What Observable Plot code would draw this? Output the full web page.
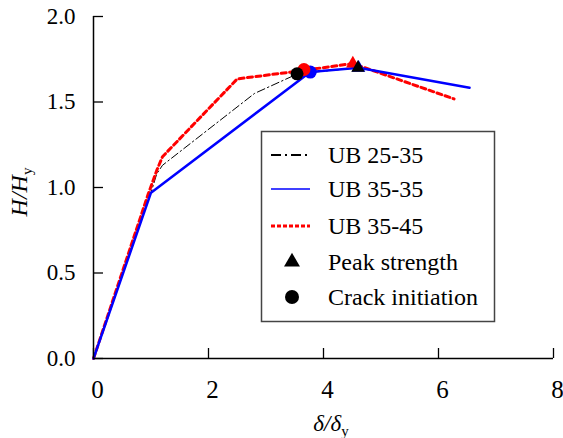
<!DOCTYPE html>
<html><head><meta charset="utf-8">
<script src="https://cdn.jsdelivr.net/npm/d3@7"></script>
<script src="https://cdn.jsdelivr.net/npm/@observablehq/plot@0.6"></script>
<style>
body{margin:0;background:#fff}
#chart{width:563px;height:438px}
</style>
</head><body><div id="chart"></div>
<script>
// Series data (δ/δy, H/Hy)
const ub2535X = [0, 1.0, 1.1, 1.2, 2.8, 3.55, 4.6];
const ub2535Y = [0, 0.97, 1.08, 1.13, 1.55, 1.665, 1.70];
const ub3535X = [0, 1.0, 3.77, 4.61, 6.54];
const ub3535Y = [0, 0.97, 1.675, 1.70, 1.583];
const ub3545X = [0, 0.95, 1.1, 1.2, 2.5, 3.66, 4.51, 6.27];
const ub3545Y = [0, 0.96, 1.1, 1.18, 1.635, 1.685, 1.725, 1.518];

// Crack initiation points (drawn blue, red, black)
const crackSeries = ["UB 35-35", "UB 35-45", "UB 25-35"];
const crackX = [3.77, 3.66, 3.54];
const crackY = [1.675, 1.69, 1.665];
// Peak strength points
const peakSeries = ["UB 35-35", "UB 35-45", "UB 25-35"];
const peakX = [4.61, 4.51, 4.6];
const peakY = [1.70, 1.725, 1.70];

const xTicks = [0, 2, 4, 6, 8];
const yTicks = [0, 0.5, 1.0, 1.5, 2.0];
const legendLabels = ["UB 25-35", "UB 35-35", "UB 35-45", "Peak strength", "Crack initiation"];

const colors = {"UB 25-35": "#000000", "UB 35-35": "#0000ff", "UB 35-45": "#ff0000"};
const toPts = (xs, ys) => xs.map((x, i) => ({x, y: ys[i]}));
const pts = (s, xs, ys) => s.map((name, i) => ({name, x: xs[i], y: ys[i]}));

const font = "Liberation Serif";

const chart = Plot.plot({
  width: 563, height: 438,
  marginLeft: 93, marginRight: 10, marginTop: 16, marginBottom: 80,
  x: {domain: [0, 8]},
  y: {domain: [0, 2]},
  style: {fontFamily: font, fontSize: "23px", color: "#000", background: "#fff", overflow: "visible"},
  marks: [
    Plot.axisX({ticks: xTicks, tickSize: -10, strokeWidth: 1.3, tickFormat: () => "", label: null}),
    Plot.axisY({ticks: yTicks, tickSize: -10, strokeWidth: 1.3, tickFormat: () => "", label: null}),
    Plot.text(xTicks, {x: d => d, frameAnchor: "bottom", lineAnchor: "top", dy: 22, dx: 4,
      text: d => String(d), fontSize: 25, fontFamily: font, fill: "#000"}),
    Plot.text(yTicks, {y: d => d, frameAnchor: "left", textAnchor: "end", dx: -18,
      text: d => d.toFixed(1), fontSize: 23, fontFamily: font, fill: "#000"}),
    Plot.line(toPts(ub2535X, ub2535Y), {x: "x", y: "y", stroke: colors["UB 25-35"], strokeWidth: 1, strokeDasharray: "8,3,1.5,3"}),
    Plot.line(toPts(ub3545X, ub3545Y), {x: "x", y: "y", stroke: colors["UB 35-45"], strokeWidth: 3, strokeDasharray: "5,3.5"}),
    Plot.line(toPts(ub3535X, ub3535Y), {x: "x", y: "y", stroke: colors["UB 35-35"], strokeWidth: 2.5}),
    Plot.dot(pts(crackSeries, crackX, crackY), {x: "x", y: "y", r: 6.5, fill: d => colors[d.name], stroke: "none"}),
    Plot.dot(pts(peakSeries, peakX, peakY), {x: "x", y: "y", r: 5, symbol: "triangle", fill: d => colors[d.name], stroke: "none"}),
    Plot.ruleX([0], {strokeWidth: 1.5}),
    Plot.ruleY([0], {strokeWidth: 1.5})
  ]
});
document.getElementById("chart").appendChild(chart);

const svg = d3.select(chart);

// Axis titles
const xl = svg.append("text").attr("x", 331).attr("y", 431).attr("text-anchor", "middle")
  .attr("font-family", font).style("font-family", font).attr("font-size", 23);
xl.append("tspan").attr("font-style", "italic").text("δ/δ");
xl.append("tspan").attr("font-size", 15).attr("dy", 5).text("y");

const yl = svg.append("text").attr("transform", "translate(27,192) rotate(-90)").attr("text-anchor", "middle")
  .attr("font-family", font).style("font-family", font).attr("font-size", 24);
yl.append("tspan").attr("font-style", "italic").text("H/H");
yl.append("tspan").attr("font-size", 15).attr("dy", 5).text("y");

// Legend
const lg = svg.append("g").attr("text-anchor", "start");
lg.append("rect").attr("x", 261.5).attr("y", 131.5).attr("width", 233).attr("height", 190)
  .attr("fill", "#fff").attr("stroke", "#444").attr("stroke-width", 1.5);
const rowY = [155, 189, 226, 262, 297];
const styles = [
  {stroke: "#000", w: 2, dash: "10,4,2,4"},
  {stroke: "#0000ff", w: 1.5, dash: null},
  {stroke: "#ff0000", w: 3, dash: "4,2"}
];
styles.forEach((s, i) => {
  lg.append("line").attr("x1", 271).attr("x2", 310).attr("y1", rowY[i]).attr("y2", rowY[i])
    .attr("stroke", s.stroke).attr("stroke-width", s.w).attr("stroke-dasharray", s.dash);
});
lg.append("path").attr("transform", `translate(292,${rowY[3]})`)
  .attr("d", d3.symbol(d3.symbolTriangle, 110)()).attr("fill", "#000");
lg.append("circle").attr("cx", 292).attr("cy", rowY[4]).attr("r", 7).attr("fill", "#000");
legendLabels.forEach((t, i) => {
  lg.append("text").attr("x", 328).attr("y", rowY[i] + 8).attr("text-anchor", "start").text(t)
    .attr("font-family", font).style("font-family", font).attr("font-size", 24);
});
</script></body></html>
